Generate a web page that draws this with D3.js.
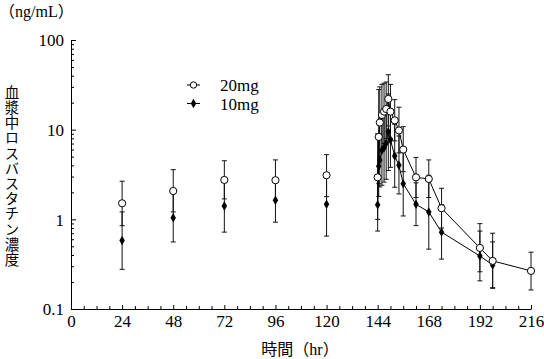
<!DOCTYPE html>
<html><head><meta charset="utf-8">
<script src="https://cdn.jsdelivr.net/npm/d3@7"></script>
<style>body{margin:0;background:#fff}svg{display:block}</style>
</head><body>
<svg id="c" width="544" height="359"></svg>
<script>
const times = [24,48,72,96,120,144,144.5,145,146,147,148,149,150,152,154,156,162,168,174,192,198,216];
const mean20 = [1.51,2.07,2.75,2.73,3.1,2.94,8.3,12.0,14.6,15.9,17.0,22.0,15.9,12.7,9.8,6.0,2.94,2.82,1.33,0.48,0.344,0.266];
const hi20   = [2.66,3.58,4.5,4.6,5.26,9,28,30,32,33,34,41,32,21.6,17.8,10.8,4.9,4.6,2.22,0.895,0.70,0.43];
const lo20   = [0.85,1.21,1.69,1.62,1.79,1.0,2.5,4.5,6,7,8,11,8,7.5,5.5,3.4,1.75,1.75,0.8,0.26,0.17,0.163];
const mean10 = [0.58,1.04,1.41,1.63,1.47,1.45,3.9,4.6,5.9,6.3,7.1,9.5,7.7,5.1,4.0,2.5,1.47,1.21,0.72,0.39,0.31,null];
const hi10   = [1.21,1.95,2.75,2.85,3.3,2.8,8,9,14,15,17,25,16,11.5,8.5,5.7,2.55,3.1,1.45,0.74,0.56,null];
const lo10   = [0.277,0.56,0.72,0.93,0.65,0.74,1.8,2.3,2.4,2.6,2.8,3.5,3.8,2.28,1.92,1.09,0.85,0.465,0.36,0.206,0.173,null];
const xTicks = d3.range(0,217,6);
const xLabels = [0,24,48,72,96,120,144,168,192,216];
const yMajor = [0.1,1,10,100];
const seriesNames = ["20mg","10mg"];
const yTitle = "血漿中ロスバスタチン濃度";
const xTitle = "時間（hr）";
const unitLabel = "（ng/mL）";

const svg = d3.select("#c");
const serif = "'Liberation Serif','DejaVu Serif','Noto Sans CJK JP',serif";
const x = d3.scaleLinear().domain([0,216]).range([71,531]);
const y = d3.scaleLog().domain([0.1,100]).range([309,40]);

const yTicks = [];
for (const d of [0.1,1,10]) for (let k=1;k<10;k++) yTicks.push(+(d*k).toPrecision(3));
yTicks.push(100);

const ax = svg.append("g").attr("transform","translate(0,309)")
  .call(d3.axisBottom(x).tickValues(xTicks).tickSize(-3).tickSizeOuter(0).tickPadding(6)
    .tickFormat(d => xLabels.includes(d) ? d : ""));
const ay = svg.append("g").attr("transform","translate(71,0)")
  .call(d3.axisLeft(y).tickValues(yTicks).tickSize(-3).tickSizeOuter(0).tickPadding(7)
    .tickFormat(d => yMajor.includes(d) ? d : ""));
ay.selectAll(".tick").filter(d => yMajor.includes(d)).select("line").attr("x2",5);
ax.selectAll(".tick").filter(d => xLabels.includes(d)).select("line").attr("y2",-4);
[ax,ay].forEach(g=>{
  g.selectAll("path,line").attr("stroke","#000").attr("stroke-width",1);
  g.selectAll("text").attr("font-family",serif).attr("font-size",17).attr("fill","#000");
});
ay.selectAll("text").attr("dy","0.35em");

function errBars(lo,hi){
  const idx = times.map((t,i)=>i).filter(i=>lo[i]!=null);
  const g = svg.append("g").attr("stroke","#111").attr("stroke-width",1).attr("fill","none");
  idx.forEach(i=>{
    const cx = x(times[i]);
    g.append("line").attr("x1",cx).attr("x2",cx).attr("y1",y(lo[i])).attr("y2",y(hi[i]));
    g.append("line").attr("x1",cx-2.5).attr("x2",cx+2.5).attr("y1",y(lo[i])).attr("y2",y(lo[i]));
    g.append("line").attr("x1",cx-2.5).attr("x2",cx+2.5).attr("y1",y(hi[i])).attr("y2",y(hi[i]));
  });
}
errBars(lo20,hi20);
errBars(lo10,hi10);

const line = d3.line().defined(d=>d[1]!=null).x(d=>x(d[0])).y(d=>y(d[1]));
const start = times.indexOf(144);
const pts20 = times.map((t,i)=>[t,mean20[i]]);
const pts10 = times.map((t,i)=>[t,mean10[i]]);
svg.append("path").attr("d",line(pts20.slice(start))).attr("fill","none").attr("stroke","#000").attr("stroke-width",1);
svg.append("path").attr("d",line(pts10.slice(start))).attr("fill","none").attr("stroke","#000").attr("stroke-width",1);

const diamond = d3.symbol().type(d3.symbolDiamond).size(26);
svg.append("g").selectAll("path").data(pts10.filter(d=>d[1]!=null)).join("path")
  .attr("d",diamond).attr("transform",d=>`translate(${x(d[0])},${y(d[1])})`).attr("fill","#000");
svg.append("g").selectAll("circle").data(pts20).join("circle")
  .attr("cx",d=>x(d[0])).attr("cy",d=>y(d[1])).attr("r",3.6)
  .attr("fill","#fff").attr("stroke","#000").attr("stroke-width",1);

const lg = svg.append("g");
[[85,seriesNames[0]],[103.5,seriesNames[1]]].forEach(([ly,name],i)=>{
  lg.append("line").attr("x1",187).attr("x2",200).attr("y1",ly).attr("y2",ly).attr("stroke","#000");
  if(i===0) lg.append("circle").attr("cx",193.5).attr("cy",ly).attr("r",3.2).attr("fill","#fff").attr("stroke","#000");
  else lg.append("path").attr("d",diamond).attr("transform",`translate(193.5,${ly})`).attr("fill","#000");
  lg.append("text").attr("x",220).attr("y",ly+6).text(name)
    .attr("font-family",serif).attr("font-size",17);
});

svg.append("text").attr("x",-1).attr("y",17).text(unitLabel)
  .attr("font-family",serif).attr("font-size",16);
svg.append("text").attr("x",12).attr("y",85)
  .style("writing-mode","vertical-rl").style("letter-spacing","0.7px")
  .attr("font-family","'Noto Sans CJK JP',sans-serif").attr("font-size",14.5).text(yTitle);
svg.append("text").attr("x",300).attr("y",355).attr("text-anchor","middle")
  .attr("font-family",serif).attr("font-size",16).text(xTitle);
</script>
</body></html>
